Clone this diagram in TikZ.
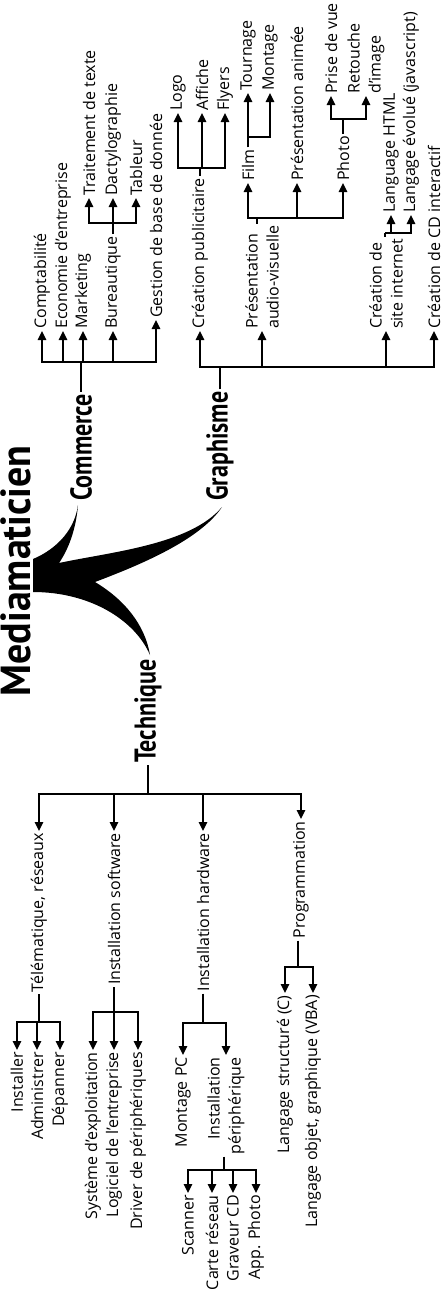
\documentclass[tikz,border=0pt]{standalone}
\usepackage{fontspec}
\setmainfont{Open Sans}
\newfontfamily\headfont[FakeStretch=0.8]{PT Sans}
\newfontfamily\titlefont[FakeStretch=0.95]{PT Sans}
\usetikzlibrary{arrows.meta}

\begin{document}
\begin{tikzpicture}[x=1pt, y=-1pt, line width=1.5pt,
    leafup/.style={rotate=90, anchor=west, inner sep=1.5pt, align=left, font=\fontsize{16}{21}\selectfont},
    leafdown/.style={rotate=90, anchor=east, inner sep=1.5pt, align=right, font=\fontsize{16}{21}\selectfont},
    head/.style={rotate=90, inner sep=1.5pt, font=\headfont\bfseries\fontsize{30}{32}\selectfont},
    titre/.style={rotate=90, anchor=base west, inner sep=0pt, font=\titlefont\bfseries\fontsize{42}{44}\selectfont},
    arr/.style={-{Triangle[length=9pt,width=8.5pt]}}]
    \path[use as bounding box, fill=white] (0,0) rectangle (445,1290);

    % Title and swoosh
    \node[titre] (titre) at (30,697) {Mediamaticien};
    \fill (33,559) .. controls (50,552) and (74,535) .. (78,505)
        .. controls (76,530) and (68,550) .. (59,563)
        .. controls (110,552) and (190,545) .. (222,507)
        .. controls (200,540) and (140,565) .. (95,582)
        .. controls (125,600) and (145,625) .. (150,655)
        .. controls (135,620) and (90,592) .. (33,592) -- cycle;

    % Commerce
    \node[head, anchor=west] (com) at (81,503) {Commerce};
    \node[leafup] (com-1) at (42,331) {Comptabilité};
    \node[leafup] (com-2) at (63,331) {Economie d'entreprise};
    \node[leafup] (com-3) at (83,331) {Marketing};
    \node[leafup] (com-4) at (113,331) {Bureautique};
    \node[leafup] (com-5) at (156,320) {Gestion de base de donnée};
    \node[leafup] (com-4-1) at (89,198) {Traitement de texte};
    \node[leafup] (com-4-2) at (113,198) {Dactylographie};
    \node[leafup] (com-4-3) at (136,198) {Tableur};

    \coordinate (com-bus) at (com.east |- 0,362);
    \draw (com.east) -- (com-bus);
    \draw[arr] (com-bus) -| (com-1.west);
    \draw[arr] (com-bus) -| (com-2.west);
    \draw[arr] (com-bus) -| (com-3.west);
    \draw[arr] (com-bus) -| (com-4.west);
    \draw[arr] (com-bus) -| (com-5.west);
    \coordinate (com-4-bus) at (com-4.east |- 0,223);
    \draw (com-4.east) -- (com-4-bus);
    \draw[arr] (com-4-bus) -| (com-4-1.west);
    \draw[arr] (com-4-bus) -| (com-4-2.west);
    \draw[arr] (com-4-bus) -| (com-4-3.west);

    % Graphisme
    \node[head, anchor=west] (gra) at (220,503) {Graphisme};
    \node[leafup] (gra-1) at (200,331) {Création publicitaire};
    \node[leafup] (gra-2) at (262,331) {Présentation\\audio-visuelle};
    \node[leafup] (gra-3) at (386,331) {Création de\\site internet};
    \node[leafup] (gra-4) at (434,331) {Création de CD interactif};
    \node[leafup] (gra-1-1) at (178,113) {Logo};
    \node[leafup] (gra-1-2) at (202,113) {Affiche};
    \node[leafup] (gra-1-3) at (225,113) {Flyers};
    \node[leafup] (gra-2-1) at (248,183) {Film};
    \node[leafup] (gra-2-2) at (297,183) {Présentation animée};
    \node[leafup] (gra-2-3) at (343,183) {Photo};
    \node[leafup] (gra-2-1-1) at (248,93) {Tournage};
    \node[leafup] (gra-2-1-2) at (270,93) {Montage};
    \node[leafup] (gra-2-3-1) at (331,96) {Prise de vue};
    \node[leafup] (gra-2-3-2) at (366,96) {Retouche\\d'image};
    \node[leafup] (gra-3-1) at (391,215) {Language HTML};
    \node[leafup] (gra-3-2) at (411,215) {Langage évolué (javascript)};

    \coordinate (gra-bus) at (gra.east |- 0,367);
    \draw (gra.east) -- (gra-bus);
    \draw[arr] (gra-bus) -| (gra-1.west);
    \draw[arr] (gra-bus) -| (gra-2.west);
    \draw[arr] (gra-bus) -| (gra-3.west);
    \draw[arr] (gra-bus) -| (gra-4.west);
    \coordinate (gra-1-bus) at (gra-1.east |- 0,168);
    \draw (gra-1.east) -- (gra-1-bus);
    \draw[arr] (gra-1-bus) -| (gra-1-1.west);
    \draw[arr] (gra-1-bus) -| (gra-1-2.west);
    \draw[arr] (gra-1-bus) -| (gra-1-3.west);
    \coordinate (gra-2-bus) at (257,218);
    \draw (gra-2.east -| gra-2-bus) -- (gra-2-bus);
    \draw[arr] (gra-2-bus) -| (gra-2-1.west);
    \draw[arr] (gra-2-bus) -| (gra-2-2.west);
    \draw[arr] (gra-2-bus) -| (gra-2-3.west);
    \coordinate (gra-2-1-bus) at (gra-2-1.east |- 0,137);
    \draw (gra-2-1.east) -- (gra-2-1-bus);
    \draw[arr] (gra-2-1-bus) -| (gra-2-1-1.west);
    \draw[arr] (gra-2-1-bus) -| (gra-2-1-2.west);
    \coordinate (gra-2-3-bus) at (gra-2-3.east |- 0,119);
    \draw (gra-2-3.east) -- (gra-2-3-bus);
    \draw[arr] (gra-2-3-bus) -| (gra-2-3-1.west);
    \draw[arr] (gra-2-3-bus) -| (gra-2-3-2.west);
    \coordinate (gra-3-bus) at (385,233);
    \draw (gra-3.east -| gra-3-bus) -- (gra-3-bus);
    \draw[arr] (gra-3-bus) -| (gra-3-1.west);
    \draw[arr] (gra-3-bus) -| (gra-3-2.west);

    % Technique
    \node[head, anchor=east] (tec) at (148,657) {Technique};
    \node[leafdown] (tec-1) at (39,831) {Télématique, réseaux};
    \node[leafdown] (tec-2) at (114,831) {Installation software};
    \node[leafdown] (tec-3) at (203,831) {Installation hardware};
    \node[leafdown] (tec-4) at (301,819) {Programmation};
    \node[leafdown] (tec-1-1) at (17,1050) {Installer};
    \node[leafdown] (tec-1-2) at (37,1050) {Administrer};
    \node[leafdown] (tec-1-3) at (60,1050) {Dépanner};
    \node[leafdown] (tec-2-1) at (93,1050) {Système d'exploitation};
    \node[leafdown] (tec-2-2) at (114,1050) {Logiciel de l'entreprise};
    \node[leafdown] (tec-2-3) at (138,1050) {Driver de périphériques};
    \node[leafdown] (tec-3-1) at (183,1055) {Montage PC};
    \node[leafdown] (tec-3-2) at (226,1055) {Installation\\périphérique};
    \node[leafdown] (tec-3-2-1) at (188,1193) {Scanner};
    \node[leafdown] (tec-3-2-2) at (212,1193) {Carte réseau};
    \node[leafdown] (tec-3-2-3) at (233,1193) {Graveur CD};
    \node[leafdown] (tec-3-2-4) at (256,1193) {App. Photo};
    \node[leafdown] (tec-4-1) at (285,993) {Langage structuré (C)};
    \node[leafdown] (tec-4-2) at (313,993) {Langage objet, graphique (VBA)};

    \coordinate (tec-bus) at (tec.west |- 0,794);
    \draw (tec.west) -- (tec-bus);
    \draw[arr] (tec-bus) -| (tec-1.east);
    \draw[arr] (tec-bus) -| (tec-2.east);
    \draw[arr] (tec-bus) -| (tec-3.east);
    \draw[arr] (tec-bus) -| (tec-4.east);
    \coordinate (tec-1-bus) at (tec-1.west |- 0,1022);
    \draw (tec-1.west) -- (tec-1-bus);
    \draw[arr] (tec-1-bus) -| (tec-1-1.east);
    \draw[arr] (tec-1-bus) -| (tec-1-2.east);
    \draw[arr] (tec-1-bus) -| (tec-1-3.east);
    \coordinate (tec-2-bus) at (tec-2.west |- 0,1012);
    \draw (tec-2.west) -- (tec-2-bus);
    \draw[arr] (tec-2-bus) -| (tec-2-1.east);
    \draw[arr] (tec-2-bus) -| (tec-2-2.east);
    \draw[arr] (tec-2-bus) -| (tec-2-3.east);
    \coordinate (tec-3-bus) at (tec-3.west |- 0,1023);
    \draw (tec-3.west) -- (tec-3-bus);
    \draw[arr] (tec-3-bus) -| (tec-3-1.east);
    \draw[arr] (tec-3-bus) -| (tec-3-2.east);
    \coordinate (tec-3-2-bus) at (224,1170);
    \draw (tec-3-2.west -| tec-3-2-bus) -- (tec-3-2-bus);
    \draw[arr] (tec-3-2-bus) -| (tec-3-2-1.east);
    \draw[arr] (tec-3-2-bus) -| (tec-3-2-2.east);
    \draw[arr] (tec-3-2-bus) -| (tec-3-2-3.east);
    \draw[arr] (tec-3-2-bus) -| (tec-3-2-4.east);
    \coordinate (tec-4-bus) at (298,967);
    \draw (tec-4.west -| tec-4-bus) -- (tec-4-bus);
    \draw[arr] (tec-4-bus) -| (tec-4-1.east);
    \draw[arr] (tec-4-bus) -| (tec-4-2.east);

\end{tikzpicture}
\end{document}
